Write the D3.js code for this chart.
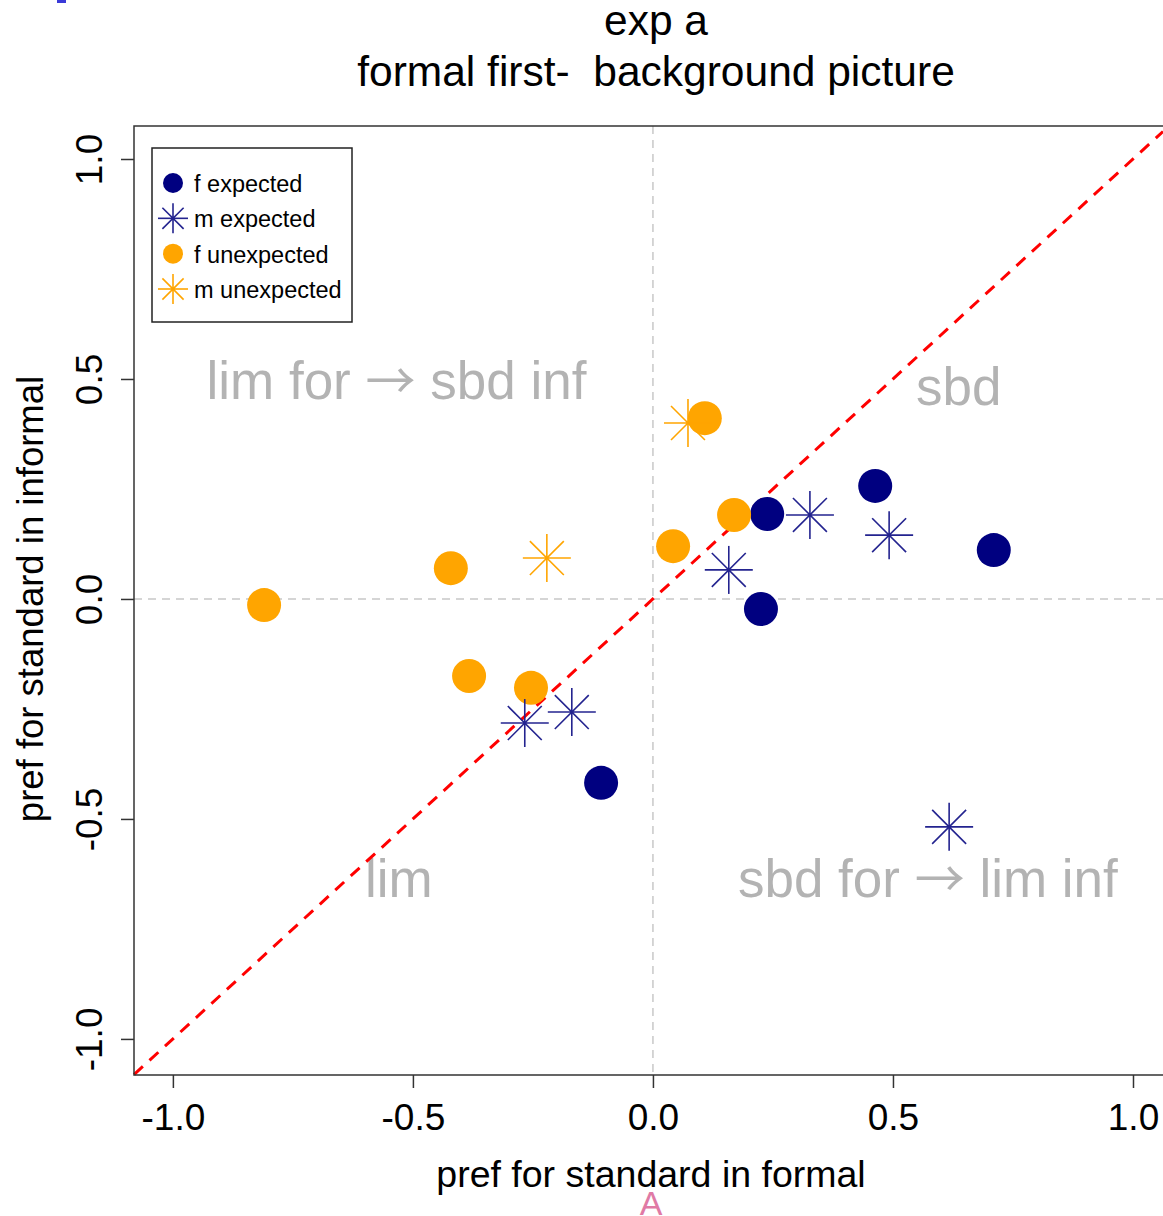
<!DOCTYPE html>
<html>
<head>
<meta charset="utf-8">
<style>
body { margin: 0; background: #fff; }
text { font-family: "Liberation Sans", Arial, sans-serif; }
</style>
</head>
<body>
<svg width="1163" height="1216"></svg>
<script src="https://d3js.org/d3.v7.min.js"></script>
<script>

// values
let fExpX = [0.238, 0.225, 0.463, 0.710, -0.108];
let fExpY = [0.193, -0.023, 0.257, 0.111, -0.418];
let mExpX = [0.158, 0.327, 0.492, -0.267, -0.169, 0.617];
let mExpY = [0.066, 0.191, 0.145, -0.282, -0.257, -0.518];
let fUnX = [-0.810, -0.421, -0.383, -0.254, 0.042, 0.169, 0.108];
let fUnY = [-0.014, 0.070, -0.175, -0.202, 0.120, 0.191, 0.411];
let mUnX = [-0.221, 0.073];
let mUnY = [0.093, 0.400];

let ticks = [-1.0, -0.5, 0.0, 0.5, 1.0];
let legendLabels = ['f expected', 'm expected', 'f unexpected', 'm unexpected'];

let plotL = 134, plotT = 126, plotB = 1075, plotR = 1163;

let x = d3.scaleLinear().domain([-1.081, 1.0625]).range([plotL, plotR]);
let y = d3.scaleLinear().domain([-1.082, 1.075]).range([plotB, plotT]);

let svg = d3.select('svg');

let navy = '#000080', orange = '#FFA500', starBlue = '#23238f';
let fmt = d => d3.format('.1f')(d).replace('\u2212', '-');

// title
svg.append('text').attr('x', 656).attr('y', 35).attr('text-anchor', 'middle')
    .style('font-size', '42.5px').text('exp a');
svg.append('text').attr('x', 656).attr('y', 86).attr('text-anchor', 'middle')
    .style('font-size', '42.5px').style('white-space', 'pre').text('formal first-  background picture');

// reference lines
svg.append('line')
    .attr('x1', x(0)).attr('x2', x(0)).attr('y1', plotT).attr('y2', plotB)
    .attr('stroke', '#c8c8c8').attr('stroke-width', 1.5).attr('stroke-dasharray', '8,6');
svg.append('line')
    .attr('x1', plotL).attr('x2', plotR).attr('y1', y(0)).attr('y2', y(0))
    .attr('stroke', '#c8c8c8').attr('stroke-width', 1.5).attr('stroke-dasharray', '8,6');

// quadrant labels
let quad = [
    {a: 'lim for ', b: ' sbd inf', x: -0.93, y: 0.455},
    {a: 'sbd', b: '', x: 0.548, y: 0.441},
    {a: 'lim', b: '', x: -0.60, y: -0.677},
    {a: 'sbd for ', b: ' lim inf', x: 0.177, y: -0.677}
];
let qt = svg.selectAll('text.quad').data(quad).join('text')
    .attr('class', 'quad')
    .attr('x', d => x(d.x)).attr('y', d => y(d.y))
    .style('font-size', '53px').style('fill', '#b3b3b3').style('white-space', 'pre');
qt.append('tspan').text(d => d.a);
qt.filter(d => d.b).append('tspan').style('font-family', '"Noto Sans CJK JP", "DejaVu Sans"')
    .style('font-size', '50px').text('\u2192');
qt.append('tspan').text(d => d.b);

// diagonal
svg.append('line')
    .attr('x1', x(-1.081)).attr('y1', y(-1.081))
    .attr('x2', x(1.0625)).attr('y2', y(1.0625))
    .attr('stroke', '#ff0000').attr('stroke-width', 3).attr('stroke-dasharray', '12,9');

function star(g, cx, cy, r, color) {
    let s = g.append('g').attr('transform', 'translate(' + cx + ',' + cy + ')');
    for (let a = 0; a < 4; a++) {
        let ang = a * Math.PI / 4;
        s.append('line')
            .attr('x1', -r * Math.cos(ang)).attr('y1', -r * Math.sin(ang))
            .attr('x2', r * Math.cos(ang)).attr('y2', r * Math.sin(ang))
            .attr('stroke', color).attr('stroke-width', 1.6);
    }
    s.append('circle').attr('r', 1.8).attr('fill', color);
}

let pts = svg.append('g');

d3.range(fExpX.length).forEach(i => {
    pts.append('circle').attr('cx', x(fExpX[i])).attr('cy', y(fExpY[i])).attr('r', 17).attr('fill', navy);
});
d3.range(fUnX.length).forEach(i => {
    pts.append('circle').attr('cx', x(fUnX[i])).attr('cy', y(fUnY[i])).attr('r', 17).attr('fill', orange);
});
d3.range(mExpX.length).forEach(i => star(pts, x(mExpX[i]), y(mExpY[i]), 24, starBlue));
d3.range(mUnX.length).forEach(i => star(pts, x(mUnX[i]), y(mUnY[i]), 24, orange));

// frame
svg.append('path')
    .attr('d', 'M' + (plotR + 5) + ',' + plotT + 'H' + plotL + 'V' + plotB + 'H' + (plotR + 5))
    .attr('fill', 'none').attr('stroke', '#333').attr('stroke-width', 1.5);

// axes
let xAxis = d3.axisBottom(x).tickValues(ticks).tickFormat(fmt).tickSize(13).tickPadding(16);
let gx = svg.append('g').attr('transform', 'translate(0,' + plotB + ')').call(xAxis);
gx.select('.domain').remove();
gx.selectAll('line').attr('stroke', '#333').attr('stroke-width', 1.5);
gx.selectAll('text').style('font-size', '37px').attr('fill', '#000')
    .style('font-family', '"Liberation Sans", Arial, sans-serif');

let yAxis = d3.axisLeft(y).tickValues(ticks).tickFormat(fmt).tickSize(13);
let gy = svg.append('g').attr('transform', 'translate(' + plotL + ',0)').call(yAxis);
gy.select('.domain').remove();
gy.selectAll('line').attr('stroke', '#333').attr('stroke-width', 1.5);
gy.selectAll('text')
    .style('font-size', '37px').attr('fill', '#000')
    .style('font-family', '"Liberation Sans", Arial, sans-serif')
    .attr('x', 0).attr('dy', 0)
    .attr('text-anchor', 'middle')
    .attr('transform', 'translate(-32,0) rotate(-90)');

// axis titles
svg.append('text').attr('x', 651).attr('y', 1187).attr('text-anchor', 'middle')
    .style('font-size', '37.5px').text('pref for standard in formal');
svg.append('text').attr('transform', 'translate(43,' + 599 + ') rotate(-90)')
    .attr('text-anchor', 'middle').style('font-size', '36.5px').text('pref for standard in informal');

// legend
let lg = svg.append('g');
lg.append('rect').attr('x', 152).attr('y', 148).attr('width', 200).attr('height', 174)
    .attr('fill', '#fff').attr('stroke', '#222').attr('stroke-width', 1.5);
let ly = d3.scalePoint().domain(legendLabels).range([183, 289]);
lg.append('circle').attr('cx', 173).attr('cy', ly(legendLabels[0])).attr('r', 10).attr('fill', navy);
star(lg, 173, ly(legendLabels[1]), 15, starBlue);
lg.append('circle').attr('cx', 173).attr('cy', ly(legendLabels[2])).attr('r', 10).attr('fill', orange);
star(lg, 173, ly(legendLabels[3]), 15, orange);
lg.selectAll('text').data(legendLabels).join('text')
    .attr('x', 194).attr('y', d => ly(d) + 9)
    .style('font-size', '23.5px').text(d => d);

// stray marks at the page edges
svg.append('text').attr('x', 651).attr('y', 1215).attr('text-anchor', 'middle')
    .style('font-size', '34px').style('fill', '#e07aa5').text('A');
svg.append('rect').attr('x', 57).attr('y', 0).attr('width', 9).attr('height', 3).attr('fill', '#3a3ad8');

</script>
</body>
</html>
